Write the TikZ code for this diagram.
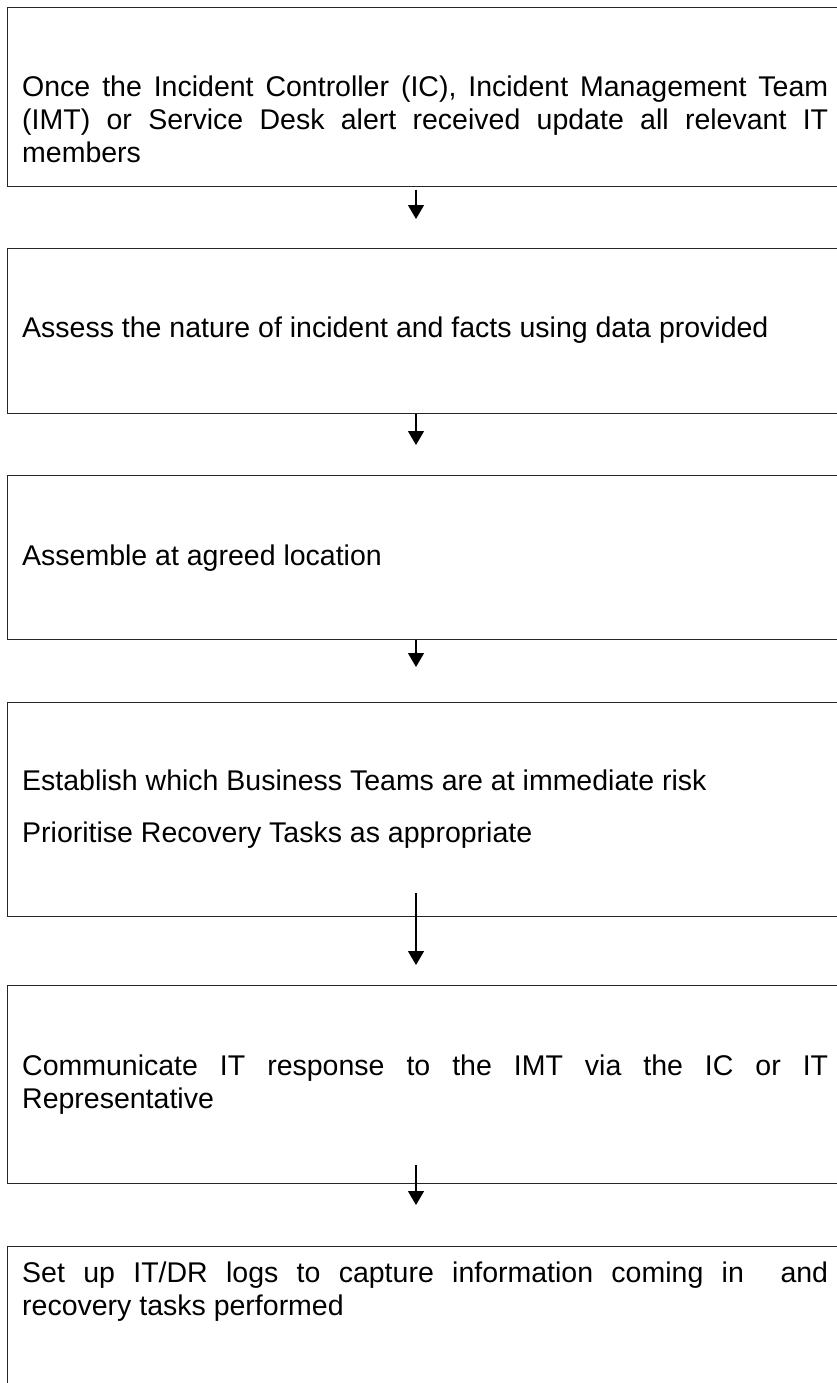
\documentclass[tikz,border=0pt]{standalone}
\usepackage{fontspec}
\setmainfont{Liberation Sans}
\usetikzlibrary{arrows.meta}
\tikzset{
  box/.style={draw=black!85, line width=1.3pt, rectangle, inner sep=0pt, anchor=north west, minimum width=843pt},
  txt/.style={anchor=base west, inner sep=0pt, text width=806pt, align=justify, font=\fontsize{28.5}{33}\selectfont},
  arr/.style={draw=black, line width=1.4pt, -{Triangle[width=16pt,length=14pt]}}
}
\begin{document}
\begin{tikzpicture}[x=1pt,y=-1pt]
\useasboundingbox (0,0) rectangle (837,1383);
\fill[white] (0,0) rectangle (837,1383);
\clip (0,0) rectangle (837,1383);
% boxes
\node[box, minimum height=179pt] (b1) at (7,7) {};
\node[box, minimum height=165pt] (b2) at (7,248) {};
\node[box, minimum height=164pt] (b3) at (7,475) {};
\node[box, minimum height=214pt] (b4) at (7,702) {};
\node[box, minimum height=198pt] (b5) at (7,985) {};
\node[box, minimum height=200pt] (b6) at (7,1246) {};
% texts
\node[txt] (t1) at (22,97) {Once the Incident Controller (IC), Incident Management Team\linebreak (IMT) or Service Desk alert received update all relevant IT\linebreak members};
\node[txt] (t2) at (22,337) {Assess the nature of incident and facts using data provided};
\node[txt] (t3) at (22,565) {Assemble at agreed location};
\node[txt] (t4a) at (22,790) {Establish which Business Teams are at immediate risk};
\node[txt] (t4b) at (22,842) {Prioritise Recovery Tasks as appropriate};
\node[txt] (t5) at (22,1075) {Communicate IT response to the IMT via the IC or IT\linebreak Representative};
\node[txt] (t6) at (22,1282) {Set up IT/DR logs to capture information coming in~ and\linebreak recovery tasks performed};
% arrow ends
\coordinate (a1s) at (416,190);
\coordinate (a1e) at (416,219);
\coordinate (a2e) at (416,445);
\coordinate (a3e) at (416,667);
\coordinate (a4s) at (416,893);
\coordinate (a4e) at (416,965);
\coordinate (a5s) at (416,1165);
\coordinate (a5e) at (416,1205);
% arrows
\draw[arr] (a1s) -- (a1e);
\draw[arr] (b2.south -| a2e) -- (a2e);
\draw[arr] (b3.south -| a3e) -- (a3e);
\draw[arr] (a4s) -- (a4e);
\draw[arr] (a5s) -- (a5e);
\end{tikzpicture}
\end{document}
